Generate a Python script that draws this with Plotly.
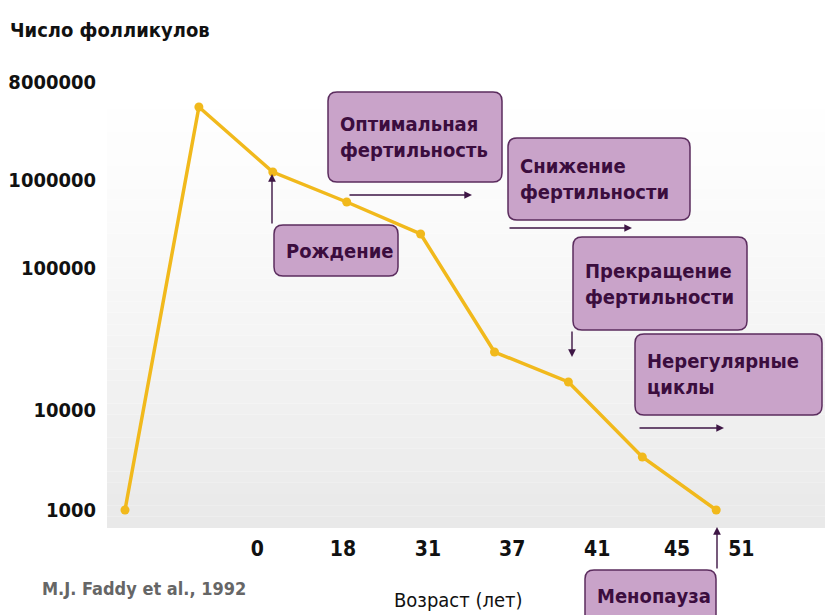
import plotly.graph_objects as go

# follicle counts, in the chart's own (hand-spaced) log levels: 1000 -> 0
STAGE_INDEX = [0, 1, 2, 3, 4, 5, 6, 7, 8]
FOLLICLE_LEVEL = [0.0, 4.03, 3.38, 3.08, 2.76, 1.58, 1.28, 0.53, 0.0]

Y_TICK_LEVEL = [0.0, 1.0, 2.42, 3.30, 4.28]
Y_TICK_TEXT = ["1000", "10000", "100000", "1000000", "8000000"]

X_TICK_POS = [1.79, 2.95, 4.10, 5.24, 6.39, 7.47, 8.34]
X_TICK_TEXT = ["0", "18", "31", "37", "41", "45", "51"]

# the page body adds an 8px margin, so the figure is drawn 8px in from the corner
OFF = 8
W_FIG, H_FIG = 835 - OFF, 615 - OFF
L, R, T, B = 107 - OFF, 10, 75 - OFF, 87
W = W_FIG - L - R
H = H_FIG - T - B

FONT = "DejaVu Sans Condensed, Liberation Sans Narrow, sans-serif"
LINE_COL = "#f1b91c"
BOX_FILL = "#c9a3c9"
BOX_EDGE = "#5b2c5e"
BOX_TEXT = "#3b0d3e"
ARROW_COL = "#3e1645"


def px(x, y):
    # screen pixel -> paper coordinates
    return (x - OFF - L) / W, (T + H - (y - OFF)) / H


def round_rect(x0, y0, x1, y1, r=9):
    ax, ay = px(x0, y1)
    bx, by = px(x1, y0)
    rx, ry = r / W, r / H
    return (
        f"M {ax + rx},{ay} L {bx - rx},{ay} Q {bx},{ay} {bx},{ay + ry} "
        f"L {bx},{by - ry} Q {bx},{by} {bx - rx},{by} "
        f"L {ax + rx},{by} Q {ax},{by} {ax},{by - ry} "
        f"L {ax},{ay + ry} Q {ax},{ay} {ax + rx},{ay} Z"
    )


fig = go.Figure()

fig.add_trace(
    go.Scatter(
        x=STAGE_INDEX,
        y=FOLLICLE_LEVEL,
        mode="lines+markers",
        line=dict(color=LINE_COL, width=3.5),
        marker=dict(color=LINE_COL, size=9),
        showlegend=False,
        hoverinfo="skip",
    )
)

shapes = []
# soft vertical gradient in the plot area
n_band = 40
for i in range(n_band):
    t = i / (n_band - 1)
    g = int(round(255 - 22 * t ** 1.3))
    shapes.append(
        dict(
            type="rect", xref="paper", yref="paper",
            x0=0, x1=1, y0=1 - (i + 1) / n_band, y1=1 - i / n_band,
            fillcolor=f"rgb({g},{g},{g})", line=dict(width=0), layer="below",
        )
    )

boxes = [
    # (x0, y0, x1, y1, text)
    (328, 92, 502, 182, "Оптимальная<br>фертильность"),
    (508, 138, 690, 220, "Снижение<br>фертильности"),
    (274, 225, 398, 276, "Рождение"),
    (573, 237, 747, 330, "Прекращение<br>фертильности"),
    (635, 334, 822, 415, "Нерегулярные<br>циклы"),
    (585, 570, 716, 640, "Менопауза"),
]

annotations = []
for x0, y0, x1, y1, text in boxes:
    shapes.append(
        dict(
            type="path", xref="paper", yref="paper", path=round_rect(x0, y0, x1, y1),
            fillcolor=BOX_FILL, line=dict(color=BOX_EDGE, width=1.5), layer="above",
        )
    )
    ty = (y0 + y1) / 2 if text != "Менопауза" else 596
    ax_, ay_ = px(x0 + 10, ty)
    annotations.append(
        dict(
            x=ax_, y=ay_, xref="paper", yref="paper", text=text, showarrow=False,
            xanchor="left", yanchor="middle", align="left",
            font=dict(family=FONT, size=20, color=BOX_TEXT, weight="bold"),
        )
    )

arrows = [
    # (tail x, tail y, head x, head y)
    (348, 195, 472, 195),
    (508, 228, 632, 228),
    (272, 225, 272, 174),
    (572, 330, 572, 357),
    (638, 428, 724, 428),
    (717, 570, 717, 527),
]
for x0, y0, x1, y1 in arrows:
    hx, hy = px(x1, y1)
    annotations.append(
        dict(
            x=hx, y=hy, ax=x0 - x1, ay=y0 - y1, xref="paper", yref="paper",
            text="", showarrow=True,
            arrowhead=2, arrowsize=1.1, arrowwidth=1.4, arrowcolor=ARROW_COL,
        )
    )

tx, ty = px(8, 30)
annotations.append(
    dict(
        x=tx, y=ty, xref="paper", yref="paper", text="Число фолликулов",
        showarrow=False, xanchor="left", yanchor="middle",
        font=dict(family=FONT, size=20, color="#111111", weight="bold"),
    )
)
tx, ty = px(458, 600)
annotations.append(
    dict(
        x=tx, y=ty, xref="paper", yref="paper", text="Возраст (лет)",
        showarrow=False, xanchor="center", yanchor="middle",
        font=dict(family=FONT, size=20, color="#111111"),
    )
)
tx, ty = px(40, 588)
annotations.append(
    dict(
        x=tx, y=ty, xref="paper", yref="paper", text="M.J. Faddy et al., 1992",
        showarrow=False, xanchor="left", yanchor="middle",
        font=dict(family=FONT, size=18, color="#666666", weight="bold"),
    )
)

x_lo = (107 - 125) / 73.9
x_hi = (107 + W - 125) / 73.9
y_lo = (510 - 528) / 100
y_hi = (510 - 75) / 100

fig.update_layout(
    width=W_FIG,
    height=H_FIG,
    margin=dict(l=L, r=R, t=T, b=B),
    paper_bgcolor="white",
    plot_bgcolor="white",
    shapes=shapes,
    annotations=annotations,
    xaxis=dict(
        range=[x_lo, x_hi], showgrid=False, zeroline=False, showline=False,
        tickmode="array", tickvals=X_TICK_POS, ticktext=X_TICK_TEXT,
        ticks="", ticklabelstandoff=6, automargin=False,
        tickfont=dict(family=FONT, size=21, color="#111111", weight="bold"),
    ),
    yaxis=dict(
        range=[y_lo, y_hi], showgrid=False, zeroline=False, showline=False,
        tickmode="array", tickvals=Y_TICK_LEVEL, ticktext=Y_TICK_TEXT,
        ticks="", ticklabelstandoff=10, automargin=False,
        tickfont=dict(family=FONT, size=20, color="#111111", weight="bold"),
    ),
)

fig.write_html("out.html")
